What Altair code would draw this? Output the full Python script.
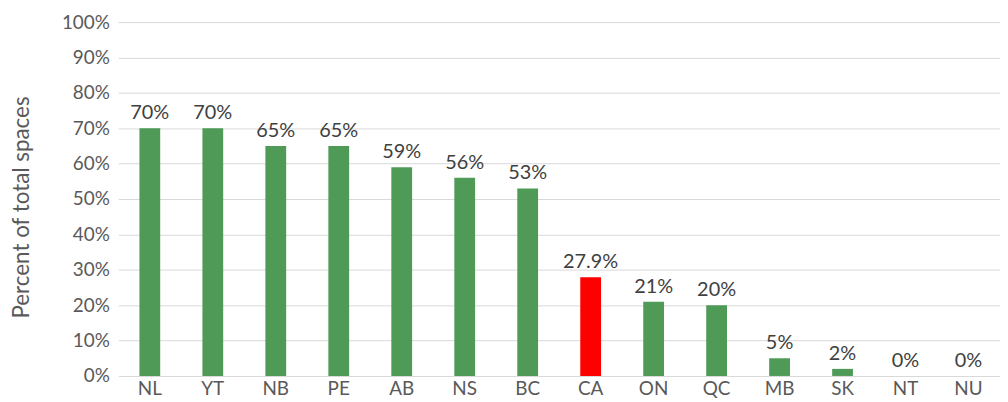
import altair as alt
import pandas as pd

provinces = ["NL", "YT", "NB", "PE", "AB", "NS", "BC", "CA", "ON", "QC", "MB", "SK", "NT", "NU"]
percents = [70, 70, 65, 65, 59, 56, 53, 27.9, 21, 20, 5, 2, 0, 0]
highlight = ["CA"]
tick_values = [0, 10, 20, 30, 40, 50, 60, 70, 80, 90, 100]

df = pd.DataFrame({
    "prov": provinces,
    "pct": percents,
    "label": [f"{v:g}%" for v in percents],
    "group": ["hi" if p in highlight else "base" for p in provinces],
})

FONT = "Lato"

x = alt.X("prov:N", sort=provinces, title=None,
          scale=alt.Scale(paddingInner=0.67, paddingOuter=0.335),
          axis=alt.Axis(labelAngle=0, labelFont=FONT, labelFontSize=19, labelColor="#595959",
                        ticks=False, domain=False, labelPadding=4, grid=False))

y = alt.Y("pct:Q", title="Percent of total spaces",
          scale=alt.Scale(domain=[0, 100], nice=False),
          axis=alt.Axis(values=tick_values, tickCount=11, labelOverlap=False,
                        labelExpr="datum.value + '%'",
                        labelFont=FONT, labelFontSize=19, labelColor="#595959",
                        titleFont=FONT, titleFontSize=22.5, titleColor="#595959",
                        titleFontWeight="normal", titlePadding=28, titleY=186,
                        ticks=False, domain=False, labelPadding=9,
                        gridColor="#d9d9d9", gridWidth=1))

base = alt.Chart(df).encode(x=x, y=y)

bars = base.mark_bar().encode(
    color=alt.Color("group:N", scale=alt.Scale(domain=["base", "hi"], range=["#509a58", "#ff0000"]),
                    legend=None),
)

text = base.mark_text(baseline="bottom", dy=-5, font=FONT, fontSize=20, color="#404040").encode(
    text="label:N",
)

chart = (bars + text).properties(
    width=887, height=356,
    background="white",
    autosize=alt.AutoSizeParams(type="none"),
    padding={"left": 111, "top": 13, "right": 0, "bottom": 22},
).configure_view(stroke=None)

chart.save("out.html", embed_options={"renderer": "svg", "actions": False})
